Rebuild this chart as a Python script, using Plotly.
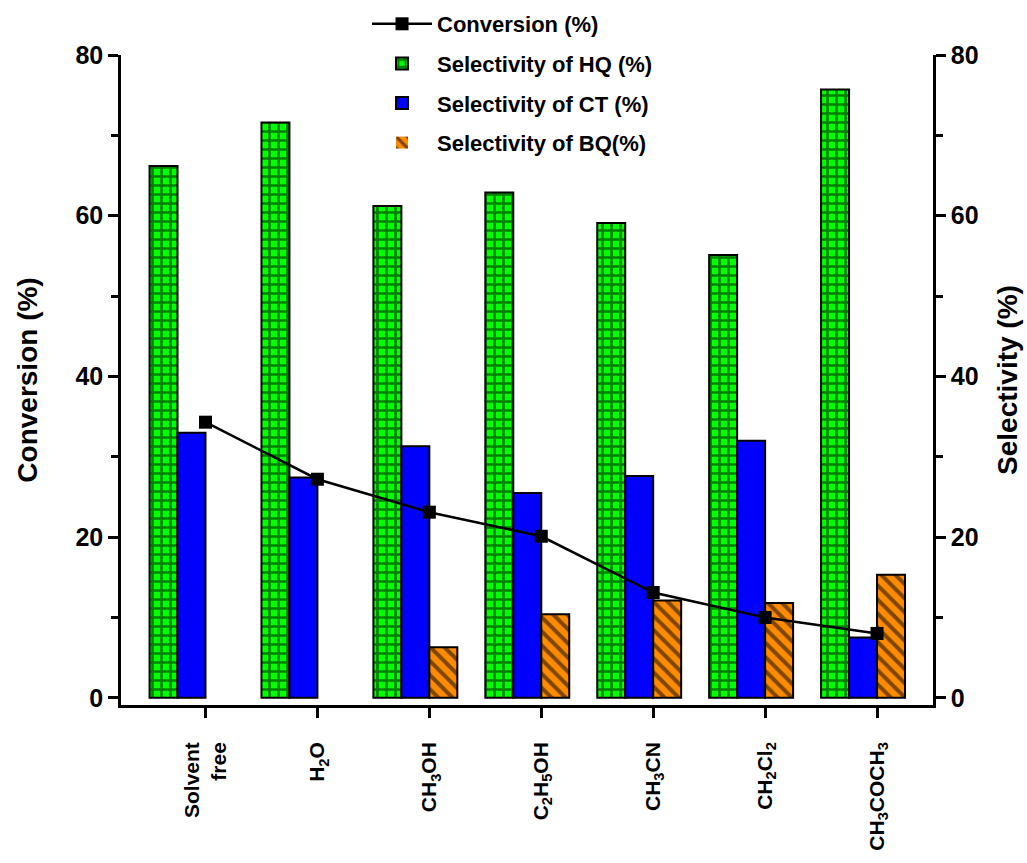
import plotly.graph_objects as go

categories = ["Solvent<br>free", "H<sub>2</sub>O", "CH<sub>3</sub>OH", "C<sub>2</sub>H<sub>5</sub>OH",
              "CH<sub>3</sub>CN", "CH<sub>2</sub>Cl<sub>2</sub>", "CH<sub>3</sub>COCH<sub>3</sub>"]
conversion = [34.3, 27.2, 23.1, 20.1, 13.1, 10.0, 8.0]
sel_hq = [66.2, 71.6, 61.2, 62.9, 59.1, 55.1, 75.7]
sel_ct = [33.0, 27.4, 31.3, 25.5, 27.6, 32.0, 7.5]
sel_bq = [0.0, 0.0, 6.3, 10.4, 12.1, 11.8, 15.3]

FONT = "Arial, Liberation Sans, sans-serif"


def outline(vals):
    return [2 if v > 0 else 0 for v in vals]


fig = go.Figure()

fig.add_trace(go.Scatter(
    x=categories, y=conversion, name="Conversion (%)", yaxis="y2",
    mode="lines+markers", legendgroup="a",
    line=dict(color="black", width=2.5),
    marker=dict(symbol="square", size=13, color="black"),
))
fig.add_trace(go.Bar(
    x=categories, y=sel_hq, name="Selectivity of HQ (%)", width=0.25, offset=-0.5,
    legendgroup="b",
    marker=dict(color="#00FF00", line=dict(color="black", width=outline(sel_hq)),
                pattern=dict(shape="+", fgcolor="black", size=9, solidity=0.5)),
))
fig.add_trace(go.Bar(
    x=categories, y=sel_ct, name="Selectivity of CT (%)", width=0.25, offset=-0.25,
    legendgroup="c",
    marker=dict(color="#0000FF", line=dict(color="black", width=outline(sel_ct))),
))
fig.add_trace(go.Bar(
    x=categories, y=sel_bq, name="Selectivity of BQ(%)", width=0.25, offset=0.0,
    legendgroup="d",
    marker=dict(color="#FF8C00", line=dict(color="black", width=outline(sel_bq)),
                pattern=dict(shape="\\", fgcolor="black", size=10, solidity=0.4)),
))

axis_common = dict(
    range=[-0.9, 80], tickvals=[0, 20, 40, 60, 80], showline=True, linecolor="black",
    linewidth=2.5, ticks="outside", ticklen=10, tickwidth=2.5, tickcolor="black",
    showgrid=False, zeroline=False, automargin=False,
    tickfont=dict(family=FONT, size=25, color="black", weight="bold"),
    minor=dict(tickvals=[10, 30, 50, 70], ticks="outside", ticklen=7, tickwidth=2.5, tickcolor="black"),
)

fig.update_layout(
    width=1027, height=863,
    margin=dict(l=121, r=94, t=55, b=158, autoexpand=False),
    plot_bgcolor="white", paper_bgcolor="white",
    barmode="overlay",
    showlegend=True,
    legend=dict(x=0.303, y=1.08, xanchor="left", yanchor="top",
                bgcolor="rgba(0,0,0,0)", traceorder="grouped", tracegroupgap=8,
                font=dict(family=FONT, size=22, color="black", weight="bold"),
                itemwidth=60),
    xaxis=dict(type="category", range=[-0.755, 6.5], showline=True, linecolor="black",
               linewidth=2.5, ticks="outside", ticklen=10, tickwidth=2.5, tickcolor="black",
               showgrid=False, tickangle=-90, ticklabelstandoff=16, automargin=False,
               tickfont=dict(family=FONT, size=21, color="black", weight="bold")),
    yaxis=dict(title=dict(text="Conversion (%)", standoff=30,
                          font=dict(family=FONT, size=28, color="black", weight="bold")),
               **axis_common),
    yaxis2=dict(title=dict(text="Selectivity (%)", standoff=20,
                           font=dict(family=FONT, size=28, color="black", weight="bold")),
                overlaying="y", side="right", **axis_common),
)

fig.write_html("out.html")
